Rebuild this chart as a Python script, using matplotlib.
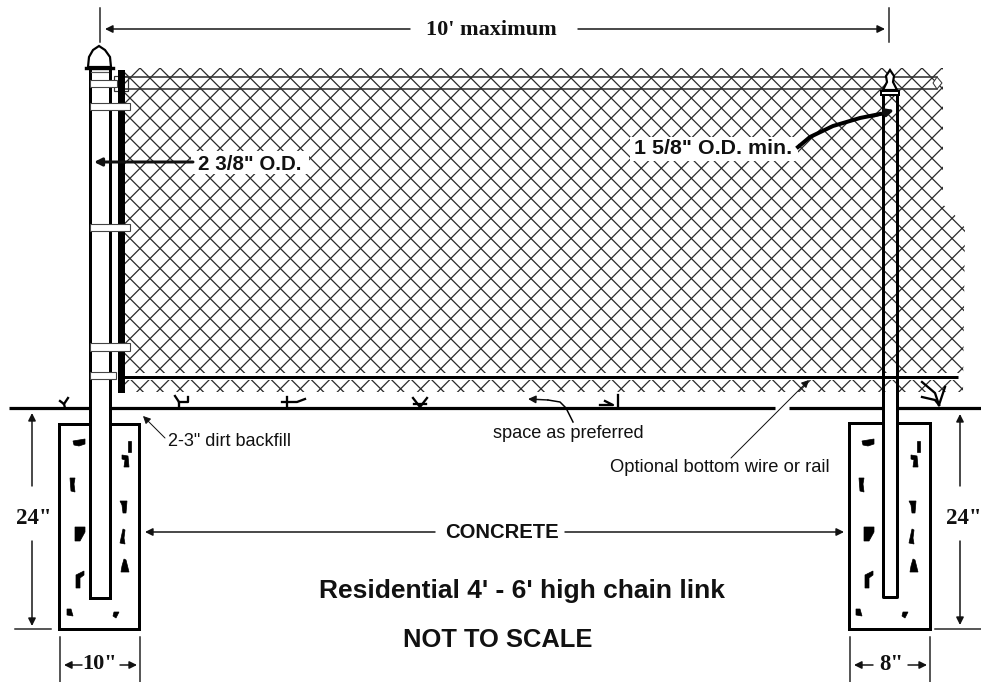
import numpy as np
import matplotlib
matplotlib.use("Agg")
import matplotlib.pyplot as plt
from matplotlib.patches import Polygon, Rectangle

PX = 0.72  # 1 px in points at dpi 100

# fence geometry in pixels
ground_runs = [(9, 775), (789, 981)]
ground_y = 408
footings = [(59, 139, 424, 629), (849, 930, 423, 629)]
left_post = (89.5, 109.5, 68, 598)
right_post = (882.5, 897, 92, 597)
terminal_post = (118, 124.5, 70, 393)
bands = [(90, 117, 80, 87), (90, 130, 103, 110), (90, 130, 224, 231), (90, 130, 343, 351), (90, 116, 372, 379)]

mesh_x0, mesh_y0 = 140, 68
mesh_pitch = 20.05
mesh_clip = [(124.5, 68), (943, 68), (943, 205), (950, 209), (965, 228), (963, 392), (124.5, 392)]

rail_y = [77, 89]
rail_x = (125, 937)
wire_y = 377
wire_x = (124, 958)

blobs = [
    [(73, 441), (85, 439), (85, 444), (79, 446), (74, 445)],
    [(128, 441), (131, 441), (131, 452), (128, 452)],
    [(122, 455), (128, 456), (129, 467), (124, 467), (125, 460), (122, 459)],
    [(70, 478), (75, 478), (74, 484), (75, 492), (71, 491)],
    [(120, 501), (127, 501), (126, 513), (123, 513), (122, 505)],
    [(123, 529), (125, 530), (124, 538), (125, 544), (120, 543)],
    [(75, 527), (85, 527), (85, 532), (80, 541), (75, 541)],
    [(124, 559), (126, 560), (129, 572), (121, 572), (122, 566)],
    [(76, 588), (76, 575), (84, 571), (84, 575), (80, 578), (80, 588)],
    [(67, 609), (71, 609), (73, 616), (67, 615)],
    [(114, 612), (119, 612), (116, 618), (113, 616)],
]
right_blob_shift = 789

grass = [
    [(65, 408), (64, 404), (60, 401)], [(64, 404), (68, 398)],
    [(179, 408), (179, 402), (175, 396)], [(179, 402), (188, 402), (188, 397)],
    [(287, 408), (287, 397)], [(282, 402), (297, 402), (305, 399)],
    [(420, 407), (413, 398)], [(420, 407), (427, 398)], [(414, 404), (426, 404)],
    [(618, 407), (618, 395)], [(605, 401), (613, 405), (600, 405)],
    [(939, 405), (945, 387)], [(922, 397), (935, 400), (939, 405)], [(922, 382), (935, 393), (939, 405)],
]

# (tail x, tail y, tip x, tip y, line width px)
arrows = [
    (410, 29, 105, 29, 1.5), (578, 29, 885, 29, 1.5),
    (193, 162, 94, 162, 3),
    (32, 486, 32, 413, 1.5), (32, 541, 32, 626, 1.5),
    (960, 486, 960, 414, 1.5), (960, 541, 960, 625, 1.5),
    (82, 665, 64, 665, 1.5), (120, 665, 137, 665, 1.5),
    (873, 665, 854, 665, 1.5), (908, 665, 927, 665, 1.5),
    (435, 532, 145, 532, 1.5), (565, 532, 844, 532, 1.5),
    (165, 438, 143, 416, 1), (731, 458, 809, 380, 1),
    (548, 400, 528, 399, 1.5),
    (874, 116, 894, 110, 3),
]
ticks = [
    (100, 8, 100, 42), (889, 8, 889, 42),
    (15, 629, 51, 629), (935, 629, 981, 629),
    (60, 637, 60, 682), (140, 637, 140, 682),
    (850, 637, 850, 682), (930, 637, 930, 682),
]
preferred_curve = [(573, 422), (566, 408), (560, 402), (548, 400)]
min_od_curve = [(798, 147), (810, 137), (833, 126), (860, 118), (880, 114)]

sans_labels = [
    ("2-3\" dirt backfill", 168, 441, 13),
    ("space as preferred", 493, 434, 13.1),
    ("Optional bottom wire or rail", 610, 467, 13.2),
]
bold_labels = [
    ("CONCRETE", 445, 533, 14.6),
    ("Residential 4' - 6' high chain link", 319, 591, 19),
    ("NOT TO SCALE", 403, 640, 18.4),
    ("2 3/8\" O.D.", 198, 164, 14.8),
    ("1 5/8\" O.D. min.", 634, 149, 15.4),
]
serif_labels = [
    ("10' maximum", 491, 30, 16),
    ("24\"", 34, 519, 16.5),
    ("24\"", 964, 518, 16.5),
    ("10\"", 100, 664, 16),
    ("8\"", 891, 664, 16.5),
]

fig = plt.figure(figsize=(9.81, 6.82), dpi=100)
ax = fig.add_axes([0, 0, 1, 1])
ax.set_xlim(0, 981)
ax.set_ylim(682, 0)
ax.axis("off")

# chain link
clip = Polygon(mesh_clip, transform=ax.transData, fc="none", ec="none")
ax.add_patch(clip)
n = np.arange(-30, 70)
for k in n:
    x = mesh_x0 + k * mesh_pitch
    for sign in (1, -1):
        line, = ax.plot([x, x + sign * 340], [mesh_y0, mesh_y0 + 340], color="#2a2a2a",
                        lw=1.25 * PX, zorder=1)
        line.set_clip_path(clip)

# white cut outs in the mesh
ax.add_patch(Rectangle((124, 373), 842, 7, fc="white", ec="none", zorder=2))
ax.add_patch(Rectangle((191, 151), 118, 23, fc="white", ec="none", zorder=2))
ax.add_patch(Rectangle((630, 137), 168, 24, fc="white", ec="none", zorder=2))

# rails
for y in rail_y:
    ax.plot(rail_x, [y, y], color="#333333", lw=1.6 * PX, zorder=3)
ax.add_patch(Polygon([(937, 77), (942, 83), (937, 89), (933, 83)], fc="white", ec="#333333", lw=PX, zorder=3))
ax.add_patch(Rectangle((114, 76), 14, 15, fc="none", ec="#333333", lw=1.2 * PX, zorder=3))
ax.plot(wire_x, [wire_y, wire_y], color="black", lw=3 * PX, solid_capstyle="butt", zorder=3)

# ground and footings
for a, b in ground_runs:
    ax.plot([a, b], [ground_y, ground_y], color="black", lw=3.2 * PX, solid_capstyle="butt", zorder=3)
for x0, x1, y0, y1 in footings:
    ax.add_patch(Rectangle((x0, y0), x1 - x0, y1 - y0, fc="white", ec="black", lw=3 * PX, zorder=3))
for shape in blobs:
    ax.add_patch(Polygon(shape, fc="black", ec="black", lw=0.5, zorder=4))
    moved = [(x + right_blob_shift, y) for x, y in shape]
    ax.add_patch(Polygon(moved, fc="black", ec="black", lw=0.5, zorder=4))
for g in grass:
    xs, ys = zip(*g)
    ax.plot(xs, ys, color="black", lw=2.3 * PX, zorder=3)

# left post
x0, x1, y0, y1 = left_post
ax.add_patch(Rectangle((x0, y0), x1 - x0, y1 - y0, fc="white", ec="black", lw=3 * PX, zorder=4))
x0, x1, y0, y1 = terminal_post
ax.add_patch(Rectangle((x0, y0), x1 - x0, y1 - y0, fc="black", ec="none", zorder=4))
for x0, x1, y0, y1 in bands:
    ax.add_patch(Rectangle((x0, y0), x1 - x0, y1 - y0, fc="white", ec="#444444", lw=1.1 * PX, zorder=5))
cap = [(99, 46), (93, 50), (89, 57), (88, 67), (111, 67), (110, 57), (105, 50)]
ax.add_patch(Polygon(cap, fc="white", ec="black", lw=2.2 * PX, zorder=5))
ax.plot([86, 113], [68, 68], color="black", lw=3.4 * PX, zorder=5)
ax.plot([91, 108], [72, 72], color="#555555", lw=1.2 * PX, zorder=5)

# right post, mesh shows through above grade
x0, x1, y0, y1 = right_post
ax.add_patch(Rectangle((x0, 394), x1 - x0, y1 - 394, fc="white", ec="none", zorder=4))
ax.plot([x0, x0, x1, x1], [y0, y1, y1, y0], color="black", lw=3 * PX, zorder=5)
cap = [(890, 70), (886, 76), (887, 82), (883, 90), (897, 90), (893, 82), (894, 76)]
ax.add_patch(Polygon(cap, fc="white", ec="black", lw=2.2 * PX, zorder=5))
ax.add_patch(Rectangle((881, 91), 18, 4, fc="white", ec="black", lw=2 * PX, zorder=5))

# dimension lines
for xa, ya, xb, yb in ticks:
    ax.plot([xa, xb], [ya, yb], color="#222222", lw=1.5 * PX, zorder=5)
for xa, ya, xb, yb, w in arrows:
    ax.annotate("", xy=(xb, yb), xytext=(xa, ya), zorder=7,
                arrowprops=dict(arrowstyle="-|>,head_width=0.25,head_length=0.5", color="#111111",
                                lw=w * PX, mutation_scale=9, shrinkA=0, shrinkB=0))
xs, ys = zip(*preferred_curve)
ax.plot(xs, ys, color="black", lw=1.5 * PX, zorder=7)
xs, ys = zip(*min_od_curve)
ax.plot(xs, ys, color="black", lw=4 * PX, zorder=7)

# labels
for s, x, y, size in sans_labels:
    ax.text(x, y, s, family="Liberation Sans", fontsize=size, va="center", ha="left", color="#111111", zorder=8)
for s, x, y, size in bold_labels:
    ax.text(x, y, s, family="Liberation Sans", weight="bold", fontsize=size, va="center", ha="left", color="#111111", zorder=8)
for s, x, y, size in serif_labels:
    ax.text(x, y, s, family="Liberation Serif", weight="bold", fontsize=size, va="center", ha="center", color="#111111", zorder=8)

fig.savefig("out.png", dpi=100)
